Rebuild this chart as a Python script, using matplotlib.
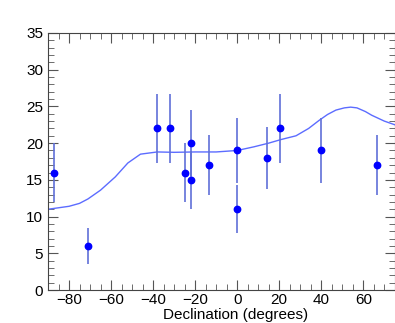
# Declination distribution with exposure curve (ROOT-like style)

import numpy as np
import matplotlib.pyplot as plt
from matplotlib.ticker import MultipleLocator

plt.rcParams['font.family'] = ['Liberation Sans', 'DejaVu Sans']

# Measured points ..............................................................
dec = [-87, -71, -38, -32, -25, -22, -22, -13.5, 0, 0, 14, 20.5, 40, 66.5]
counts = [16, 6, 22, 22, 16, 20, 15, 17, 19, 11, 18, 22, 19, 17]
errors = [4.0, 2.4, 4.7, 4.7, 4.0, 4.5, 3.9, 4.1, 4.4, 3.3, 4.2, 4.7, 4.4, 4.1]

# Expected curve ...............................................................
curve_dec = [-90, -90, -85, -80, -75, -71, -65, -58, -52, -46, -38, -30, -20,
             -10, 0, 8, 15, 21, 28, 34, 39, 43, 47, 51, 54, 57, 61, 64, 67,
             70, 73, 75]
curve_val = [0, 11.0, 11.2, 11.4, 11.8, 12.4, 13.6, 15.4, 17.3, 18.5, 18.8,
             18.75, 18.8, 18.8, 19.0, 19.5, 20.0, 20.5, 21.0, 22.0, 23.1,
             23.9, 24.5, 24.8, 24.9, 24.8, 24.3, 23.8, 23.4, 23.0, 22.7, 22.5]

fig = plt.figure(figsize=(3.95, 3.23), dpi=100)
ax = fig.add_axes([0.1215, 0.102, 0.878, 0.796])

ax.plot(curve_dec, curve_val, color="#5c6cff", lw=1.0, zorder=2)
ax.errorbar(dec, counts, yerr=errors, fmt="o", color="#0000ff", ms=4.6,
            ecolor="#6070d8", elinewidth=1.2, capsize=0, zorder=3)

ax.set_xlim(-90, 75)
ax.set_ylim(0, 35)
ax.xaxis.set_major_locator(MultipleLocator(20))
ax.xaxis.set_minor_locator(MultipleLocator(5))
ax.yaxis.set_major_locator(MultipleLocator(5))
ax.yaxis.set_minor_locator(MultipleLocator(1))
ax.tick_params(which="both", direction="in", top=True, right=True,
               color="#555555", labelsize=11)
ax.tick_params(which="major", length=7)
ax.tick_params(which="minor", length=4)
ax.tick_params(axis="x", pad=2)
for sp in ax.spines.values():
    sp.set_color("#444444")

ax.set_xlabel("Declination (degrees)", fontsize=11, labelpad=0)
ax.xaxis.set_label_coords(0.54, -0.068)

fig.savefig("out.png", dpi=100)
